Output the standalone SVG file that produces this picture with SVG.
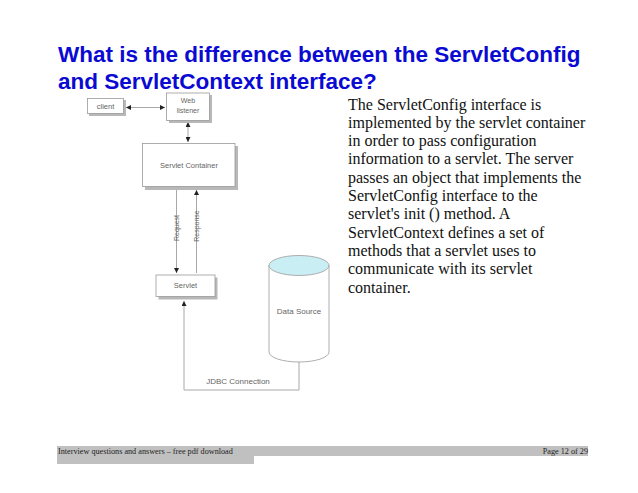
<svg xmlns="http://www.w3.org/2000/svg" width="638" height="493" viewBox="0 0 638 493">
<style>
.title{font-family:"Liberation Sans",Arial,sans-serif;font-weight:bold;font-size:22.5px;fill:#0a0ad2}
.body{font-family:"Liberation Serif","Times New Roman",serif;font-size:16px;fill:#111}
.foot{font-family:"Liberation Serif","Times New Roman",serif;font-size:8.2px;fill:#222}
.box{fill:#fff;stroke:#9a9a9a;stroke-width:0.8}
.shadow{fill:#b8b8b8}
.lbl{font-family:"Liberation Sans",Arial,sans-serif;font-size:7px;fill:#666;text-anchor:middle}
.con{fill:none;stroke:#a8a8a8;stroke-width:1}
</style>
<defs>
<marker id="ah" viewBox="0 0 6 6" refX="6" refY="3" markerWidth="5" markerHeight="5" orient="auto-start-reverse">
<path d="M0,0 L6,3 L0,6 z" fill="#222"/>
</marker>
</defs>
<rect width="638" height="493" fill="#fff"/>
<text class="title" x="58" y="62">What is the difference between the ServletConfig</text>
<text class="title" x="58" y="89">and ServletContext interface?</text>

<g id="connectors">
<line class="con" x1="126" y1="107.5" x2="165" y2="107.5" marker-start="url(#ah)" marker-end="url(#ah)"/>
<line class="con" x1="188" y1="122" x2="188" y2="142" marker-start="url(#ah)" marker-end="url(#ah)"/>
<line class="con" x1="176.5" y1="188" x2="176.5" y2="273" marker-end="url(#ah)"/>
<line class="con" x1="196.5" y1="273" x2="196.5" y2="190" marker-end="url(#ah)"/>
<text class="lbl" transform="translate(179 228) rotate(-90)">Request</text>
<text class="lbl" transform="translate(199 226) rotate(-90)">Response</text>
<polyline class="con" points="299,348 299,390 184,390 184,301" marker-start="url(#ah)" marker-end="url(#ah)"/>
<text class="lbl" x="238" y="384" style="font-size:8px">JDBC Connection</text>
</g>

<g id="client">
<rect class="shadow" x="89" y="100" width="37" height="16"/>
<rect class="box" x="87.5" y="98.5" width="36" height="15"/>
<text class="lbl" x="105.5" y="109" style="font-size:7.5px">client</text>
</g>
<g id="web-listener">
<rect class="shadow" x="169" y="95" width="43" height="28"/>
<rect class="box" x="166.5" y="93" width="43" height="27.5"/>
<text class="lbl" x="188" y="103" style="font-size:7px">Web</text>
<text class="lbl" x="188" y="113" style="font-size:7px">listener</text>
</g>
<g id="servlet-container">
<rect class="shadow" x="145" y="146" width="93" height="44"/>
<rect class="box" x="142.5" y="143.5" width="92.5" height="43"/>
<text class="lbl" x="189" y="167.5" style="font-size:7.5px">Servlet Container</text>
</g>
<g id="servlet">
<rect class="shadow" x="158.5" y="277.5" width="59" height="22"/>
<rect class="box" x="156" y="275" width="59" height="21.5"/>
<text class="lbl" x="185.5" y="288" style="font-size:7.5px">Servlet</text>
</g>
<g id="data-source">
<path d="M269,265 L269,352 A30,10 0 0 0 329,352 L329,265" fill="#fff" stroke="#9a9a9a" stroke-width="0.8"/>
<ellipse cx="299" cy="265.5" rx="30" ry="10" fill="#c9eef4" stroke="#9a9a9a" stroke-width="0.8"/>
<text class="lbl" x="299" y="314" style="font-size:8px">Data Source</text>
</g>

<g class="body">
<text x="348" y="109.5">The ServletConfig interface is</text>
<text x="348" y="127.8">implemented by the servlet container</text>
<text x="348" y="146.1">in order to pass configuration</text>
<text x="348" y="164.4">information to a servlet. The server</text>
<text x="348" y="182.7">passes an object that implements the</text>
<text x="348" y="201">ServletConfig interface to the</text>
<text x="348" y="219.3">servlet's init () method. A</text>
<text x="348" y="237.6">ServletContext defines a set of</text>
<text x="348" y="255.9">methods that a servlet uses to</text>
<text x="348" y="274.2">communicate with its servlet</text>
<text x="348" y="292.5">container.</text>
</g>

<rect x="57" y="446" width="531" height="10" fill="#c0c0c0"/>
<rect x="57" y="456" width="197" height="8" fill="#c0c0c0"/>
<text class="foot" x="58" y="453.5">Interview questions and answers – free pdf download</text>
<text class="foot" x="588" y="453.5" text-anchor="end">Page 12 of 29</text>
</svg>
